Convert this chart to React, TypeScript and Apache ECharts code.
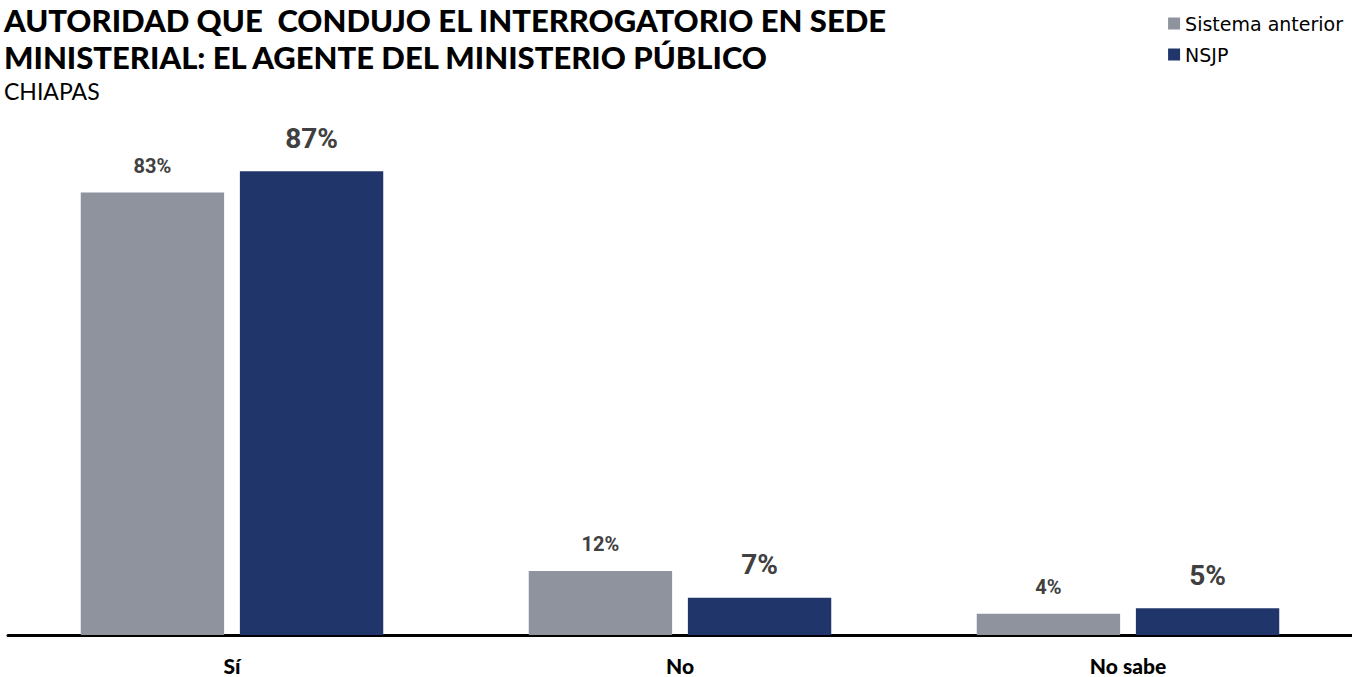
import React, { useEffect, useRef } from "react";
import * as echarts from "echarts";

const categories = ["Sí", "No", "No sabe"];
const seriesNames = ["Sistema anterior", "NSJP"];
const sistemaAnterior = [83, 12, 4];
const nsjp = [87, 7, 5];
const titleLines = ["AUTORIDAD QUE  CONDUJO EL INTERROGATORIO EN SEDE", "MINISTERIAL: EL AGENTE DEL MINISTERIO PÚBLICO"];
const subtitle = "CHIAPAS";

export default function App() {
  const ref = useRef<HTMLDivElement>(null);
  useEffect(() => {
    if (!ref.current) return;
    const chart = echarts.init(ref.current, undefined, { renderer: "svg" });
    chart.setOption({
      animation: false,
      backgroundColor: "#ffffff",
      graphic: [
        {
          type: "text",
          left: 4,
          top: 1,
          style: {
            text: titleLines.join("\n"),
            font: "900 31px Lato",
            lineHeight: 37,
            fill: "#000000",
          },
        },
        {
          type: "text",
          left: 4,
          top: 79,
          style: { text: subtitle, font: "400 23px Lato", fill: "#000000" },
        },
      ],
      legend: {
        orient: "vertical",
        right: 4,
        top: 9,
        icon: "rect",
        itemWidth: 12,
        itemHeight: 12,
        itemGap: 12,
        textStyle: { fontFamily: "DejaVu Sans", fontSize: 19, color: "#000000" },
        data: seriesNames,
      },
      grid: { left: 8, right: 0, top: 102, bottom: 42, containLabel: false },
      xAxis: {
        type: "category",
        data: categories,
        axisLine: { show: true, lineStyle: { color: "#000000", width: 3 } },
        axisTick: { show: false },
        axisLabel: {
          margin: 20,
          fontFamily: "Lato",
          fontWeight: 900,
          fontSize: 21,
          color: "#000000",
        },
      },
      yAxis: {
        type: "value",
        min: 0,
        max: 100,
        show: false,
        splitLine: { show: false },
      },
      series: [
        {
          name: seriesNames[0],
          type: "bar",
          data: sistemaAnterior,
          barWidth: "32%",
          barGap: "11%",
          itemStyle: { color: "#8E939E" },
          label: {
            show: true,
            position: "top",
            distance: 17,
            formatter: "{c}%",
            fontFamily: "Roboto",
            fontWeight: "bold",
            fontSize: 20,
            color: "#404040",
          },
        },
        {
          name: seriesNames[1],
          type: "bar",
          data: nsjp,
          barWidth: "32%",
          itemStyle: { color: "#20366B" },
          label: {
            show: true,
            position: "top",
            distance: 19,
            formatter: "{c}%",
            fontFamily: "Roboto",
            fontWeight: "bold",
            fontSize: 28,
            color: "#404040",
          },
        },
      ],
    });
    return () => chart.dispose();
  }, []);
  return (
    <div
      ref={ref}
      style={{ position: "fixed", left: 0, top: 0, width: 1352, height: 677 }}
    />
  );
}
